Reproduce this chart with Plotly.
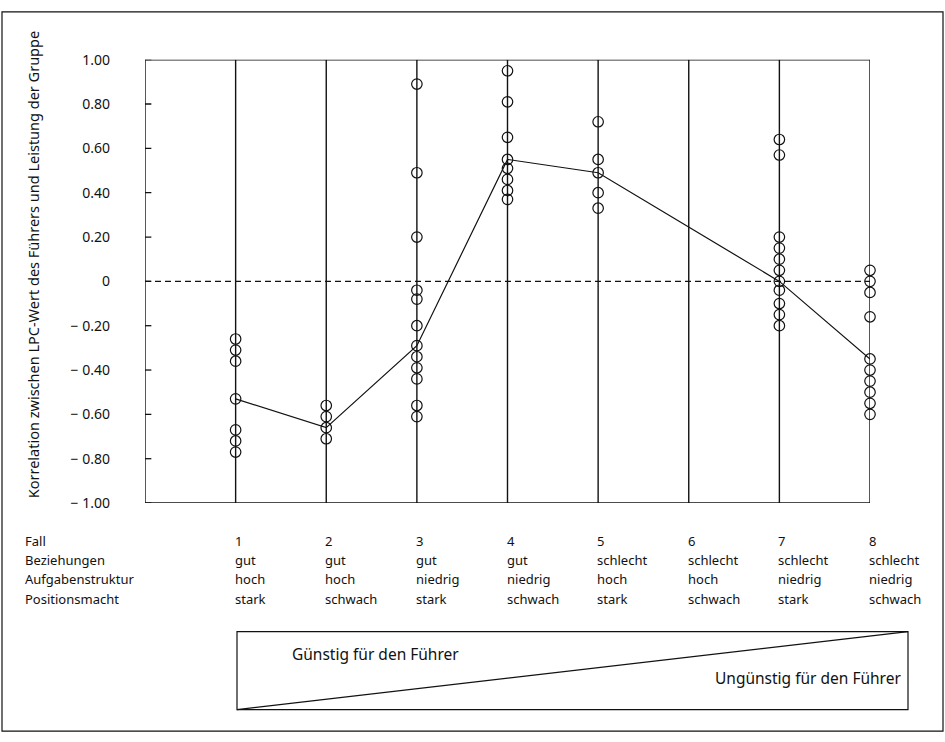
import plotly.graph_objects as go

W, H = 945, 742

# ---------------- data ----------------
cases = [1, 2, 3, 4, 5, 6, 7, 8]
case1 = [-0.26, -0.31, -0.36, -0.53, -0.67, -0.72, -0.77]
case2 = [-0.56, -0.61, -0.66, -0.71]
case3 = [0.89, 0.49, 0.20, -0.04, -0.08, -0.20, -0.29, -0.34, -0.39, -0.44, -0.56, -0.61]
case4 = [0.95, 0.81, 0.65, 0.55, 0.51, 0.46, 0.41, 0.37]
case5 = [0.72, 0.55, 0.49, 0.40, 0.33]
case6 = []
case7 = [0.64, 0.57, 0.20, 0.15, 0.10, 0.05, 0.00, -0.04, -0.10, -0.15, -0.20]
case8 = [0.05, 0.00, -0.05, -0.16, -0.35, -0.40, -0.45, -0.50, -0.55, -0.60]
case_values = [case1, case2, case3, case4, case5, case6, case7, case8]

median_cases = [1, 2, 3, 4, 5, 7, 8]
median_values = [-0.53, -0.66, -0.29, 0.55, 0.49, 0.00, -0.35]

y_ticks = [1.0, 0.8, 0.6, 0.4, 0.2, 0.0, -0.2, -0.4, -0.6, -0.8, -1.0]
y_tick_labels = ["1.00", "0.80", "0.60", "0.40", "0.20", "0",
                 "\u2212 0.20", "\u2212 0.40", "\u2212 0.60", "\u2212 0.80", "\u2212 1.00"]

row_titles = ["Fall", "Beziehungen", "Aufgabenstruktur", "Positionsmacht"]
beziehungen = ["gut", "gut", "gut", "gut", "schlecht", "schlecht", "schlecht", "schlecht"]
aufgabenstruktur = ["hoch", "hoch", "niedrig", "niedrig", "hoch", "hoch", "niedrig", "niedrig"]
positionsmacht = ["stark", "schwach", "stark", "schwach", "stark", "schwach", "stark", "schwach"]

y_title = "Korrelation zwischen LPC-Wert des Führers und Leistung der Gruppe"
favourable = "Günstig für den Führer"
unfavourable = "Ungünstig für den Führer"

# ---------------- layout helpers ----------------
FONT = "Noto Sans"
INK = "#111111"


def px(xp):
    return xp / W


def py(yp):
    return 1 - yp / H


x_left_px, x_right_px = 145, 870
y_top_px, y_bot_px = 51, 506

fig = go.Figure()

# data points
xs, ys = [], []
for c, vals in zip(cases, case_values):
    xs += [c] * len(vals)
    ys += vals
fig.add_trace(go.Scatter(
    x=xs, y=ys, mode="markers",
    marker=dict(symbol="circle-open", size=10.5, color=INK, line=dict(width=1.2, color=INK)),
    cliponaxis=False, showlegend=False, hoverinfo="skip"))

# line through the central values
fig.add_trace(go.Scatter(
    x=median_cases, y=median_values, mode="lines",
    line=dict(color=INK, width=1.2), cliponaxis=False,
    showlegend=False, hoverinfo="skip"))

shapes = []
ext = -1.062
# vertical case lines
for c in cases:
    shapes.append(dict(type="line", xref="x", yref="y", x0=c, x1=c, y0=ext, y1=1.0,
                       line=dict(color=INK, width=1.4), layer="below"))
# left axis
shapes.append(dict(type="line", xref="x", yref="y", x0=0, x1=0, y0=ext, y1=1.0,
                   line=dict(color=INK, width=1.4), layer="below"))
# top & bottom frame lines
for yv in (1.0, -1.0):
    shapes.append(dict(type="line", xref="x", yref="y", x0=0, x1=cases[-1], y0=yv, y1=yv,
                       line=dict(color=INK, width=1.4), layer="below"))
# zero dashed line
shapes.append(dict(type="line", xref="x", yref="y", x0=0, x1=cases[-1], y0=0, y1=0,
                   line=dict(color=INK, width=1.2, dash="6px,4px"), layer="below"))
# ticks crossing the left axis
for t in y_ticks:
    shapes.append(dict(type="line", xref="x", yref="y", x0=-0.07, x1=0.07, y0=t, y1=t,
                       line=dict(color=INK, width=1.3), layer="below"))

# favourability box
bx0, bx1, by0, by1 = 237, 908, 638, 718
shapes.append(dict(type="rect", xref="paper", yref="paper",
                   x0=px(bx0), x1=px(bx1), y0=py(by1), y1=py(by0),
                   line=dict(color=INK, width=1.2)))
shapes.append(dict(type="line", xref="paper", yref="paper",
                   x0=px(bx0), x1=px(bx1), y0=py(by1), y1=py(by0),
                   line=dict(color=INK, width=1.2)))
# outer frame
shapes.append(dict(type="rect", xref="paper", yref="paper",
                   x0=px(2), x1=px(943), y0=py(740), y1=py(2),
                   line=dict(color=INK, width=1.2)))

annotations = []
# y title
annotations.append(dict(text=y_title, textangle=-90, xref="paper", yref="paper",
                        x=px(33), y=py(262), showarrow=False,
                        font=dict(family=FONT, size=14.5, color=INK),
                        xanchor="center", yanchor="middle"))

# category table
row_px = [545, 564, 584, 604]
rows = [[str(c) for c in cases], beziehungen, aufgabenstruktur, positionsmacht]
for title, yp, vals in zip(row_titles, row_px, rows):
    annotations.append(dict(text=title, xref="paper", yref="paper", x=px(23), y=py(yp),
                            showarrow=False, xanchor="left", yanchor="middle",
                            font=dict(family=FONT, size=13, color=INK)))
    for c, v in zip(cases, vals):
        annotations.append(dict(text=v, xref="x", yref="paper", x=c, y=py(yp),
                                xshift=-3, showarrow=False, xanchor="left", yanchor="middle",
                                font=dict(family=FONT, size=13, color=INK)))

annotations.append(dict(text=favourable, xref="paper", yref="paper", x=px(290), y=py(661),
                        showarrow=False, xanchor="left", yanchor="middle",
                        font=dict(family=FONT, size=15.5, color=INK)))
annotations.append(dict(text=unfavourable, xref="paper", yref="paper", x=px(903), y=py(686),
                        showarrow=False, xanchor="right", yanchor="middle",
                        font=dict(family=FONT, size=15.5, color=INK)))

fig.update_layout(
    width=W, height=H,
    margin=dict(l=0, r=0, t=0, b=0),
    paper_bgcolor="white", plot_bgcolor="white",
    shapes=shapes, annotations=annotations,
    showlegend=False,
    xaxis=dict(domain=[px(x_left_px), px(x_right_px)], range=[0, 8],
               showgrid=False, zeroline=False, showline=False,
               showticklabels=False, ticks="", fixedrange=True),
    yaxis=dict(domain=[py(y_bot_px), py(y_top_px)], range=[-1, 1],
               tickvals=y_ticks, ticktext=y_tick_labels,
               showgrid=False, zeroline=False, showline=False, ticks="",
               ticklabelstandoff=34,
               tickfont=dict(family=FONT, size=14, color=INK), fixedrange=True),
)

fig.write_html("out.html", config={"displayModeBar": False},
               post_script="document.body.style.margin='0';document.body.style.overflow='hidden';")
